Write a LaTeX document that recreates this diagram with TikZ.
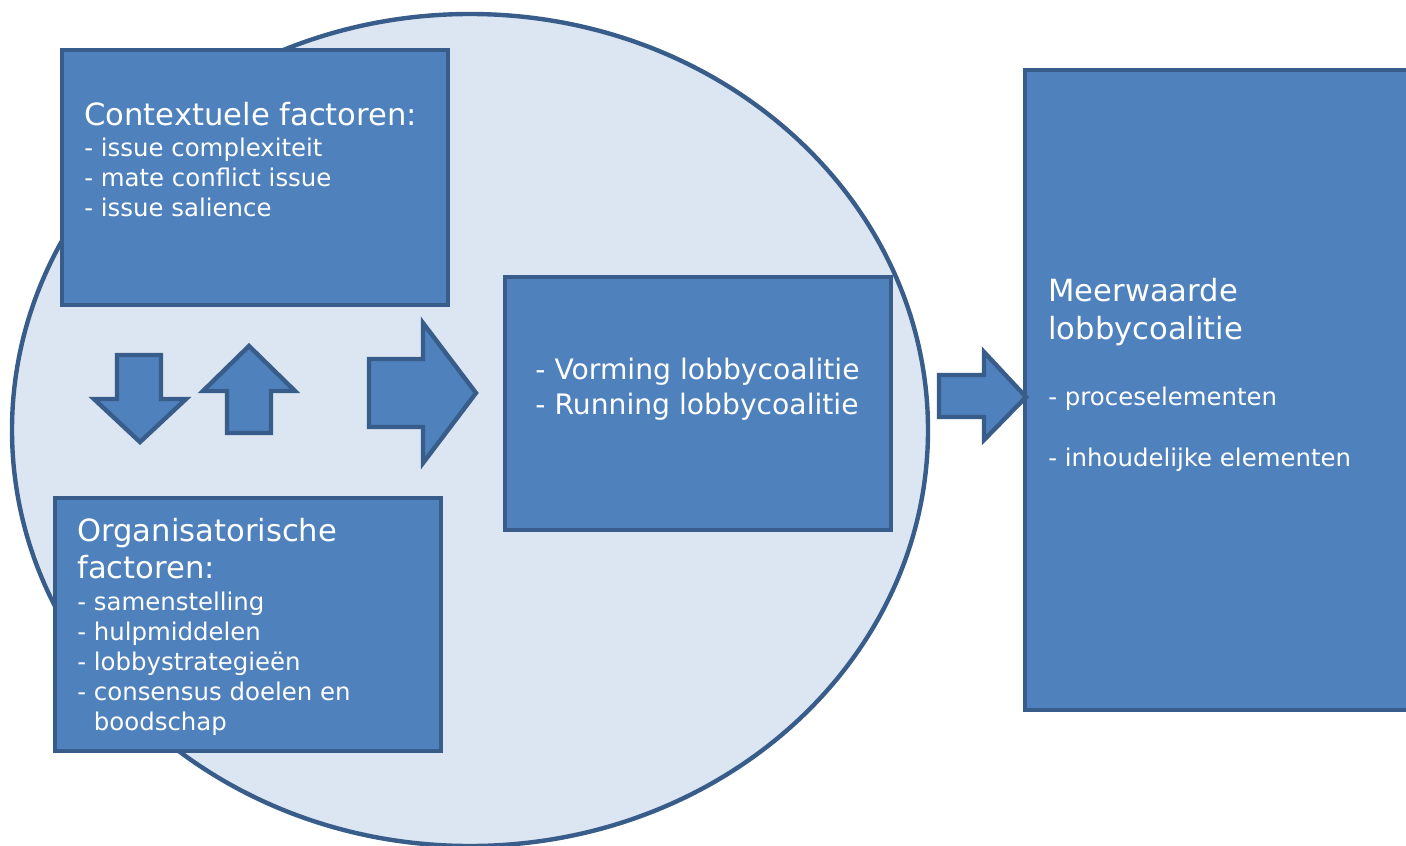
\documentclass[tikz,border=0pt]{standalone}
\usepackage{fontspec}
\setmainfont{DejaVu Sans}
\usetikzlibrary{positioning}

\definecolor{boxblue}{HTML}{4F81BD}
\definecolor{edgeblue}{HTML}{385D8A}
\definecolor{paleblue}{HTML}{DCE6F2}
\newcommand\titlefont{\fontsize{15.3}{18.5}\selectfont}
\newcommand\itemfont{\fontsize{12.2}{15}\selectfont}
\newcommand\midfont{\fontsize{14.1}{17.5}\selectfont}

\begin{document}
\begin{tikzpicture}
    [x=0.5pt, y=-0.5pt,
     box/.style={rectangle, draw=edgeblue, fill=boxblue, line width=2.2pt, minimum width=193pt, inner sep=0pt},
     blockarrow/.style={draw=edgeblue, fill=boxblue, line width=2.2pt, line join=miter},
     lbl/.style={text=white, align=left, inner sep=0pt, anchor=base west}]

    \useasboundingbox (0,0) rectangle (1406,845);
    \clip (0,0) rectangle (1406,845);

    % background circle
    \draw [draw=edgeblue, fill=paleblue, line width=2.2pt] (470,430) ellipse [x radius=458, y radius=416];

    \node [box, minimum height=127.5pt] (ctx)  at (255,177.5) {};
    \node [box, minimum height=126.5pt] (org)  at (248,624.5) {};
    \node [box, minimum height=126.5pt] (vorm) at (698,403.5) {};
    \node [box, minimum width=197.5pt, minimum height=320pt] (meer) at (1222.5,390) {};

    % text blocks, placed by the baseline of their last line
    \node [lbl, font=\itemfont] (ctxtxt) at (84,217) {%
        {\titlefont Contextuele factoren:}\\[0.5pt]
        - issue complexiteit\\
        - mate conflict issue\\
        - issue salience};
    \node [lbl, font=\itemfont] (orgtxt) at (77,730) {%
        {\titlefont Organisatorische}\\[3.5pt]
        {\titlefont factoren:}\\[1pt]
        - samenstelling\\
        - hulpmiddelen\\
        - lobbystrategieën\\
        - consensus doelen en\\
        \hphantom{-}\ boodschap};
    \node [lbl, font=\midfont] (vormtxt) at (535,414) {%
        - Vorming lobbycoalitie\\
        - Running lobbycoalitie};
    \node [lbl, font=\itemfont] (meertxt) at (1048,466) {%
        {\titlefont Meerwaarde}\\[4pt]
        {\titlefont lobbycoalitie}\\[18pt]
        - proceselementen\\[15.5pt]
        - inhoudelijke elementen};

    % block arrows
    \draw [blockarrow] (117,355) -- (161,355) -- (161,399) -- (186,399) -- (140,442) -- (94,399) -- (117,399) -- cycle;
    \draw [blockarrow] (249,346) -- (295,391) -- (271,391) -- (271,433) -- (227,433) -- (227,391) -- (203,391) -- cycle;
    \draw [blockarrow] (369,359) -- (423,359) -- (423,323) -- (476,393) -- (423,463) -- (423,427) -- (369,427) -- cycle;
    \draw [blockarrow] (939,375) -- (984,375) -- (984,352) -- (1026,397) -- (984,440) -- (984,417) -- (939,417) -- cycle;
\end{tikzpicture}
\end{document}
